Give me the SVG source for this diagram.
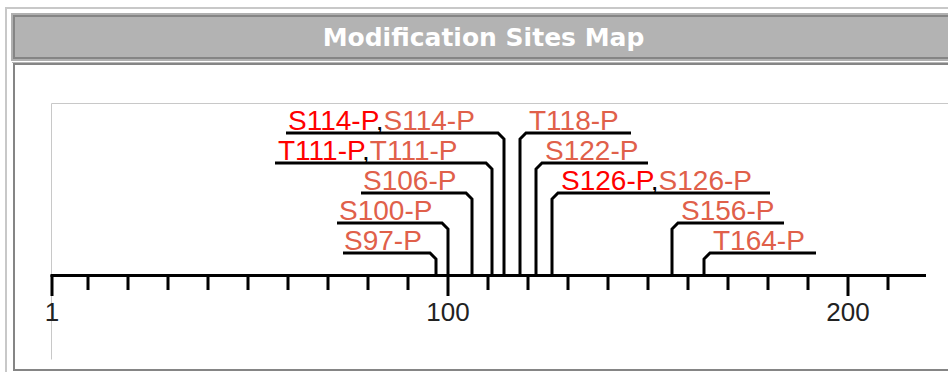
<svg xmlns="http://www.w3.org/2000/svg" width="948" height="372" viewBox="0 0 948 372">
<style>
.lbl{font-family:"Liberation Sans",Arial,sans-serif;font-size:28px;}
.hot{fill:#ff0000;}
.sal{fill:#e0604a;}
.sep{fill:#000;}
.lead{fill:none;stroke:#000;stroke-width:3;stroke-linejoin:miter;}
.tick{stroke:#000;stroke-width:3;}
.num{font-family:"Liberation Sans",Arial,sans-serif;font-size:26px;fill:#222;text-anchor:middle;}
</style>
<rect width="948" height="372" fill="#fff"/>
<g id="frame">
<rect x="6" y="8" width="960" height="380" fill="none" stroke="#c8c8c8" stroke-width="2"/>
<rect x="12" y="14" width="960" height="46" fill="none" stroke="#b0b0b0" stroke-width="2"/>
<rect x="14" y="16" width="960" height="42" fill="#b3b3b3" stroke="#858585" stroke-width="2"/>
<line x1="12" y1="62.5" x2="948" y2="62.5" stroke="#b8b8b8" stroke-width="1"/>
<rect x="14" y="64" width="960" height="306" fill="#fff" stroke="#858585" stroke-width="2"/>
<text x="483.5" y="45.5" text-anchor="middle" font-family="'DejaVu Sans',Verdana,sans-serif" font-weight="bold" font-size="25" fill="#fff">Modification Sites Map</text>
<path d="M51.5,359.5 V103.5 H960" fill="none" stroke="#c8c8c8" stroke-width="1"/>
</g>
<g id="axis">
<line x1="50.5" y1="275.5" x2="926" y2="275.5" class="tick"/>
<path class="tick" d="M52,275 V296 M88,275 V290 M128,275 V290 M168,275 V290 M208,275 V290 M248,275 V290 M288,275 V290 M328,275 V290 M368,275 V290 M408,275 V290 M448,275 V296 M488,275 V290 M528,275 V290 M568,275 V290 M608,275 V290 M648,275 V290 M688,275 V290 M728,275 V290 M768,275 V290 M808,275 V290 M848,275 V296 M888,275 V290"/>
<text class="num" x="52" y="321">1</text>
<text class="num" x="448" y="321">100</text>
<text class="num" x="848" y="321">200</text>
</g>
<g id="connectors">
<path class="lead" d="M286,133 H498 L504,139 V275"/>
<path class="lead" d="M275,163 H486 L492,169 V275"/>
<path class="lead" d="M361,193 H466 L472,199 V275"/>
<path class="lead" d="M337,223 H442 L448,229 V275"/>
<path class="lead" d="M343,253 H430 L436,259 V275"/>
<path class="lead" d="M520,275 V139 L526,133 H631"/>
<path class="lead" d="M536,275 V169 L542,163 H648"/>
<path class="lead" d="M552,275 V199 L558,193 H770"/>
<path class="lead" d="M672,275 V229 L678,223 H784"/>
<path class="lead" d="M704,275 V259 L710,253 H816"/>
</g>
<g id="site-S114"><text class="lbl" x="288" y="129.5"><tspan class="hot">S114-P</tspan><tspan class="sep">,</tspan><tspan class="sal">S114-P</tspan></text></g>
<g id="site-T111"><text class="lbl" x="278" y="159.5"><tspan class="hot">T111-P</tspan><tspan class="sep">,</tspan><tspan class="sal">T111-P</tspan></text></g>
<g id="site-S106"><text class="lbl sal" x="363" y="189.5">S106-P</text></g>
<g id="site-S100"><text class="lbl sal" x="339" y="219.5">S100-P</text></g>
<g id="site-S97"><text class="lbl sal" x="344" y="249.5">S97-P</text></g>
<g id="site-T118"><text class="lbl sal" x="529" y="129.5">T118-P</text></g>
<g id="site-S122"><text class="lbl sal" x="545" y="159.5">S122-P</text></g>
<g id="site-S126"><text class="lbl" x="561" y="189.5"><tspan class="hot">S126-P</tspan><tspan class="sep">,</tspan><tspan class="sal">S126-P</tspan></text></g>
<g id="site-S156"><text class="lbl sal" x="681" y="219.5">S156-P</text></g>
<g id="site-T164"><text class="lbl sal" x="713" y="249.5">T164-P</text></g>
</svg>
